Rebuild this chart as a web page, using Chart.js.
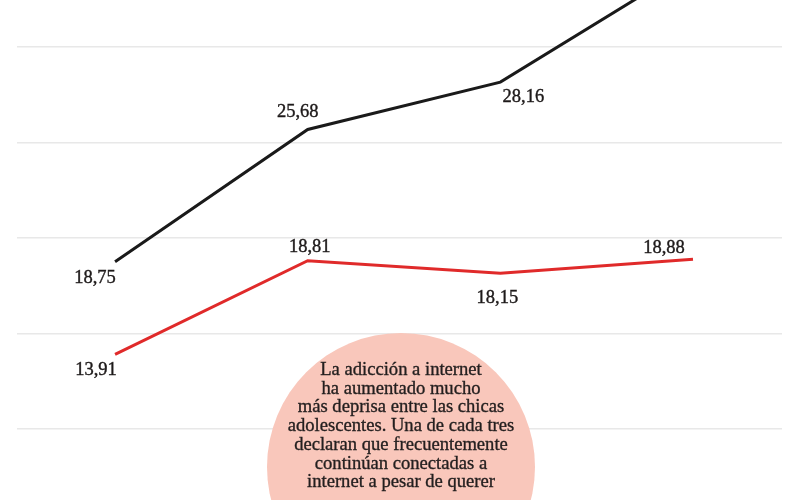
<!DOCTYPE html>
<html>
<head>
<meta charset="utf-8">
<script src="https://cdn.jsdelivr.net/npm/chart.js@4"></script>
<style>
  html, body { margin: 0; padding: 0; background: #fff; overflow: hidden; }
  #wrap { position: relative; width: 800px; height: 500px; overflow: hidden; }
  #note {
    position: absolute; left: 267px; top: 333px; width: 268px; height: 268px;
    border-radius: 50%; background: #f9c7bb;
    font-family: "Liberation Serif", serif; font-size: 18.6px; line-height: 18.7px;
    color: #231f1f; text-align: center; box-sizing: border-box; padding-top: 27px;
    -webkit-text-stroke: 0.35px #231f1f;
  }
</style>
</head>
<body>
<div id="wrap">
  <canvas id="myChart" width="800" height="500"></canvas>
  <div id="note">La adicción a internet<br>ha aumentado mucho<br>más deprisa entre las chicas<br>adolescentes. Una de cada tres<br>declaran que frecuentemente<br>continúan conectadas a<br>internet a pesar de querer</div>
</div>
<script>
const categories = ['1', '2', '3', '4'];
const blackValues = [18.75, 25.68, 28.16, 34.35];
const redValues = [13.91, 18.81, 18.15, 18.88];

// label offsets (dx, baseline dy) per point
const blackOffsets = [[-20, 21], [-10, -12], [23, 20], [0, -10]];
const redOffsets = [[-19, 21], [2, -9], [-3, 30], [-29, -6]];

const toPoints = vals => vals.map((v, i) => ({ x: i, y: v }));
const fmt = v => v.toFixed(2).replace('.', ',');

const valueLabels = {
  id: 'valueLabels',
  afterDatasetsDraw(chart) {
    const ctx = chart.ctx;
    ctx.save();
    ctx.font = '18.5px "Liberation Serif", serif';
    ctx.fillStyle = '#1e1a1a';
    ctx.strokeStyle = '#1e1a1a';
    ctx.lineWidth = 0.4;
    ctx.textAlign = 'center';
    ctx.textBaseline = 'alphabetic';
    chart.data.datasets.forEach((ds, di) => {
      const meta = chart.getDatasetMeta(di);
      meta.data.forEach((pt, i) => {
        const off = ds.labelOffsets[i];
        const t = fmt(ds.data[i].y);
        ctx.fillText(t, pt.x + off[0], pt.y + off[1]);
        ctx.strokeText(t, pt.x + off[0], pt.y + off[1]);
      });
    });
    ctx.restore();
  }
};

new Chart(document.getElementById('myChart'), {
  type: 'line',
  data: {
    labels: categories,
    datasets: [
      {
        label: 'black',
        data: toPoints(blackValues),
        borderColor: '#1a1a1a',
        borderWidth: 3,
        pointRadius: 0,
        tension: 0,
        labelOffsets: blackOffsets
      },
      {
        label: 'red',
        data: toPoints(redValues),
        borderColor: '#e02a2a',
        borderWidth: 3,
        pointRadius: 0,
        tension: 0,
        labelOffsets: redOffsets
      }
    ]
  },
  options: {
    responsive: false,
    animation: false,
    layout: { padding: { left: 17, right: 18, top: 0, bottom: 0 } },
    plugins: { legend: { display: false }, tooltip: { enabled: false } },
    scales: {
      x: { type: 'linear', min: -0.509, max: 3.462, display: false },
      y: {
        min: 6.28, max: 32.46,
        border: { display: false },
        grid: { color: '#e8e8e8', lineWidth: 1.5, drawTicks: false },
        ticks: { display: false, stepSize: 5, includeBounds: false },
        afterFit: s => { s.width = 0; }
      }
    }
  },
  plugins: [valueLabels]
});
</script>
</body>
</html>
